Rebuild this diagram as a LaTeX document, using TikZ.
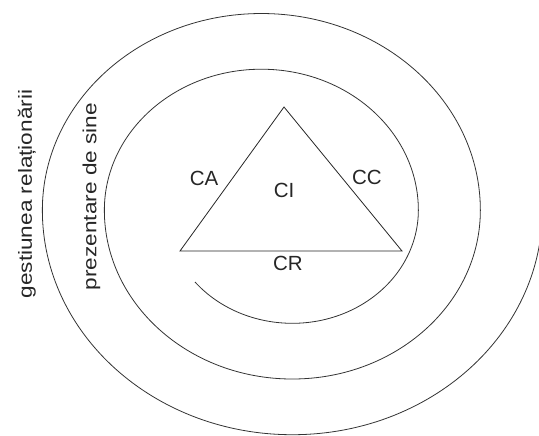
\documentclass[tikz,border=0pt]{standalone}
\usepackage{fontspec}
\setmainfont{Liberation Sans}
\usepackage{graphicx}
\begin{document}
\begin{tikzpicture}[x=1pt,y=-1pt,
  spiralline/.style={line width=0.8pt, draw=black!80},
  triline/.style={line width=0.8pt, draw=black!85},
  lbl/.style={font=\fontsize{20.5}{24}\selectfont, inner sep=0pt, text=black!85},
  rotlbl/.style={font=\fontsize{19}{22}\selectfont, inner sep=0pt, rotate=90, text=black!85}]
\useasboundingbox (0,0) rectangle (539,436);
\clip (0,0) rectangle (539,436);
% spiral
\coordinate (sstart) at (195,282);
\draw[spiralline] (sstart)
  arc[start angle=140.6, end angle=0, x radius=126, y radius=113.1]
  arc[start angle=0, end angle=-180, x radius=157, y radius=141]
  arc[start angle=180, end angle=0, x radius=188, y radius=168.8]
  arc[start angle=0, end angle=-180, x radius=219, y radius=196.7]
  arc[start angle=180, end angle=0, x radius=250, y radius=224.5];
% triangle
\coordinate (apex) at (284,107);
\coordinate (bl) at (180,251);
\coordinate (br) at (402,251);
\draw[triline] (apex) -- (bl) -- (br) -- cycle;
% labels
\node[lbl] (ca) at (204,178) {CA};
\node[lbl] (ci) at (284,190) {CI};
\node[lbl] (cc) at (367,177) {CC};
\node[lbl] (cr) at (288,263) {CR};
\node[rotlbl] (gest) at (27,194) {\scalebox{1.19}[1]{gestiunea relaționării}};
\node[rotlbl] (prez) at (91.5,196.5) {\scalebox{1.19}[1]{prezentare de sine}};
\end{tikzpicture}
\end{document}
